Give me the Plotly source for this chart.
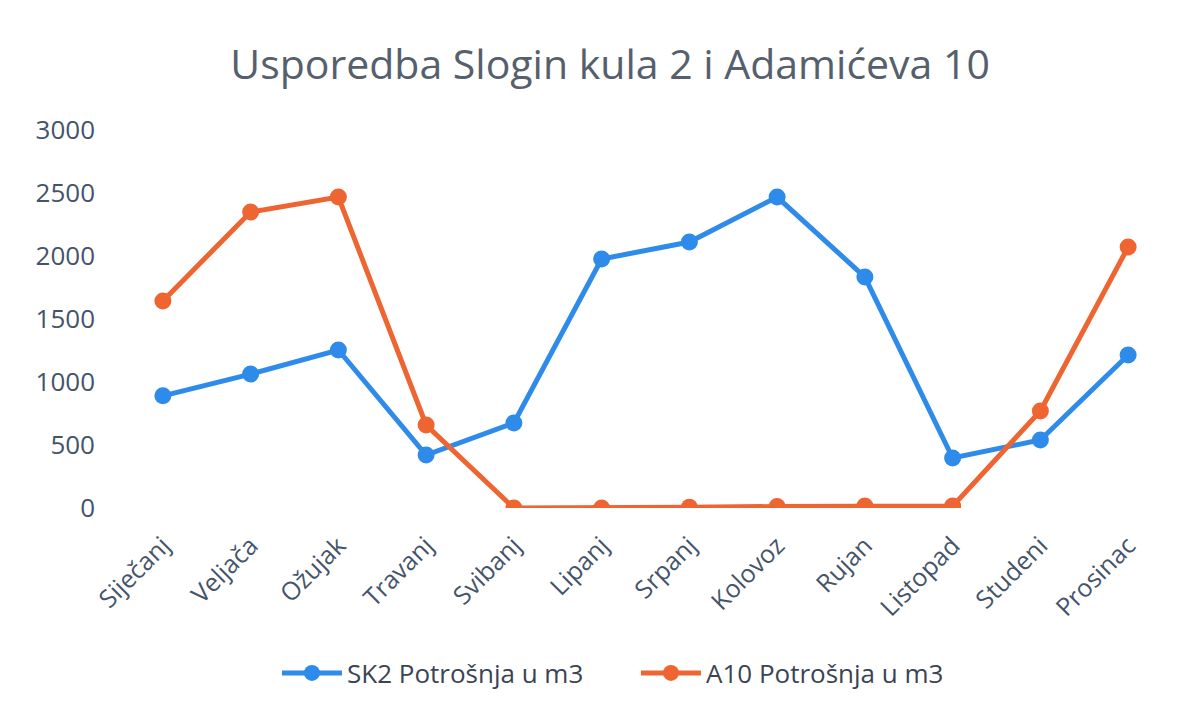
import plotly.graph_objects as go

months = ["Siječanj", "Veljača", "Ožujak", "Travanj", "Svibanj", "Lipanj",
          "Srpanj", "Kolovoz", "Rujan", "Listopad", "Studeni", "Prosinac"]
sk2 = [890, 1063, 1254, 420, 675, 1976, 2111, 2468, 1833, 397, 540, 1214]
a10 = [1643, 2349, 2468, 659, 0, 0, 5, 12, 15, 15, 770, 2071]

title_text = "Usporedba Slogin kula 2 i Adamićeva 10"
font_family = "Open Sans, Noto Sans, sans-serif"
tick_color = "#44546A"

fig = go.Figure()
fig.add_trace(go.Scatter(
    x=months, y=sk2, name="SK2 Potrošnja u m3", mode="lines+markers",
    line=dict(color="#2E8BEA", width=5),
    marker=dict(color="#2E8BEA", size=17),
))
fig.add_trace(go.Scatter(
    x=months, y=a10, name="A10 Potrošnja u m3", mode="lines+markers",
    line=dict(color="#EE6532", width=5),
    marker=dict(color="#EE6532", size=17),
))

fig.update_layout(
    width=1197, height=714,
    paper_bgcolor="white", plot_bgcolor="white",
    margin=dict(l=111, r=33, t=122, b=214, autoexpand=False),
    title=dict(text=title_text, x=0.503, xanchor="center", y=0.92, yanchor="middle",
               font=dict(family=font_family, size=41, color="#56606C")),
    font=dict(family=font_family, color=tick_color),
    xaxis=dict(type="category", tickangle=-45, showgrid=False, showline=False,
               zeroline=False, ticks="", automargin=False, range=[-0.5, 11.5],
               tickfont=dict(size=25, color=tick_color), ticklabelstandoff=17),
    yaxis=dict(range=[0, 3000], dtick=500, showgrid=False, showline=False,
               zeroline=False, ticks="", automargin=False,
               tickfont=dict(size=26, color=tick_color), ticklabelstandoff=23),
    legend=dict(orientation="h", x=0.15, xanchor="left", y=-0.4365, yanchor="middle",
                font=dict(size=26, color="#3B4453"), itemwidth=60,
                entrywidth=284),
    showlegend=True,
)

fig.write_html("out.html")
